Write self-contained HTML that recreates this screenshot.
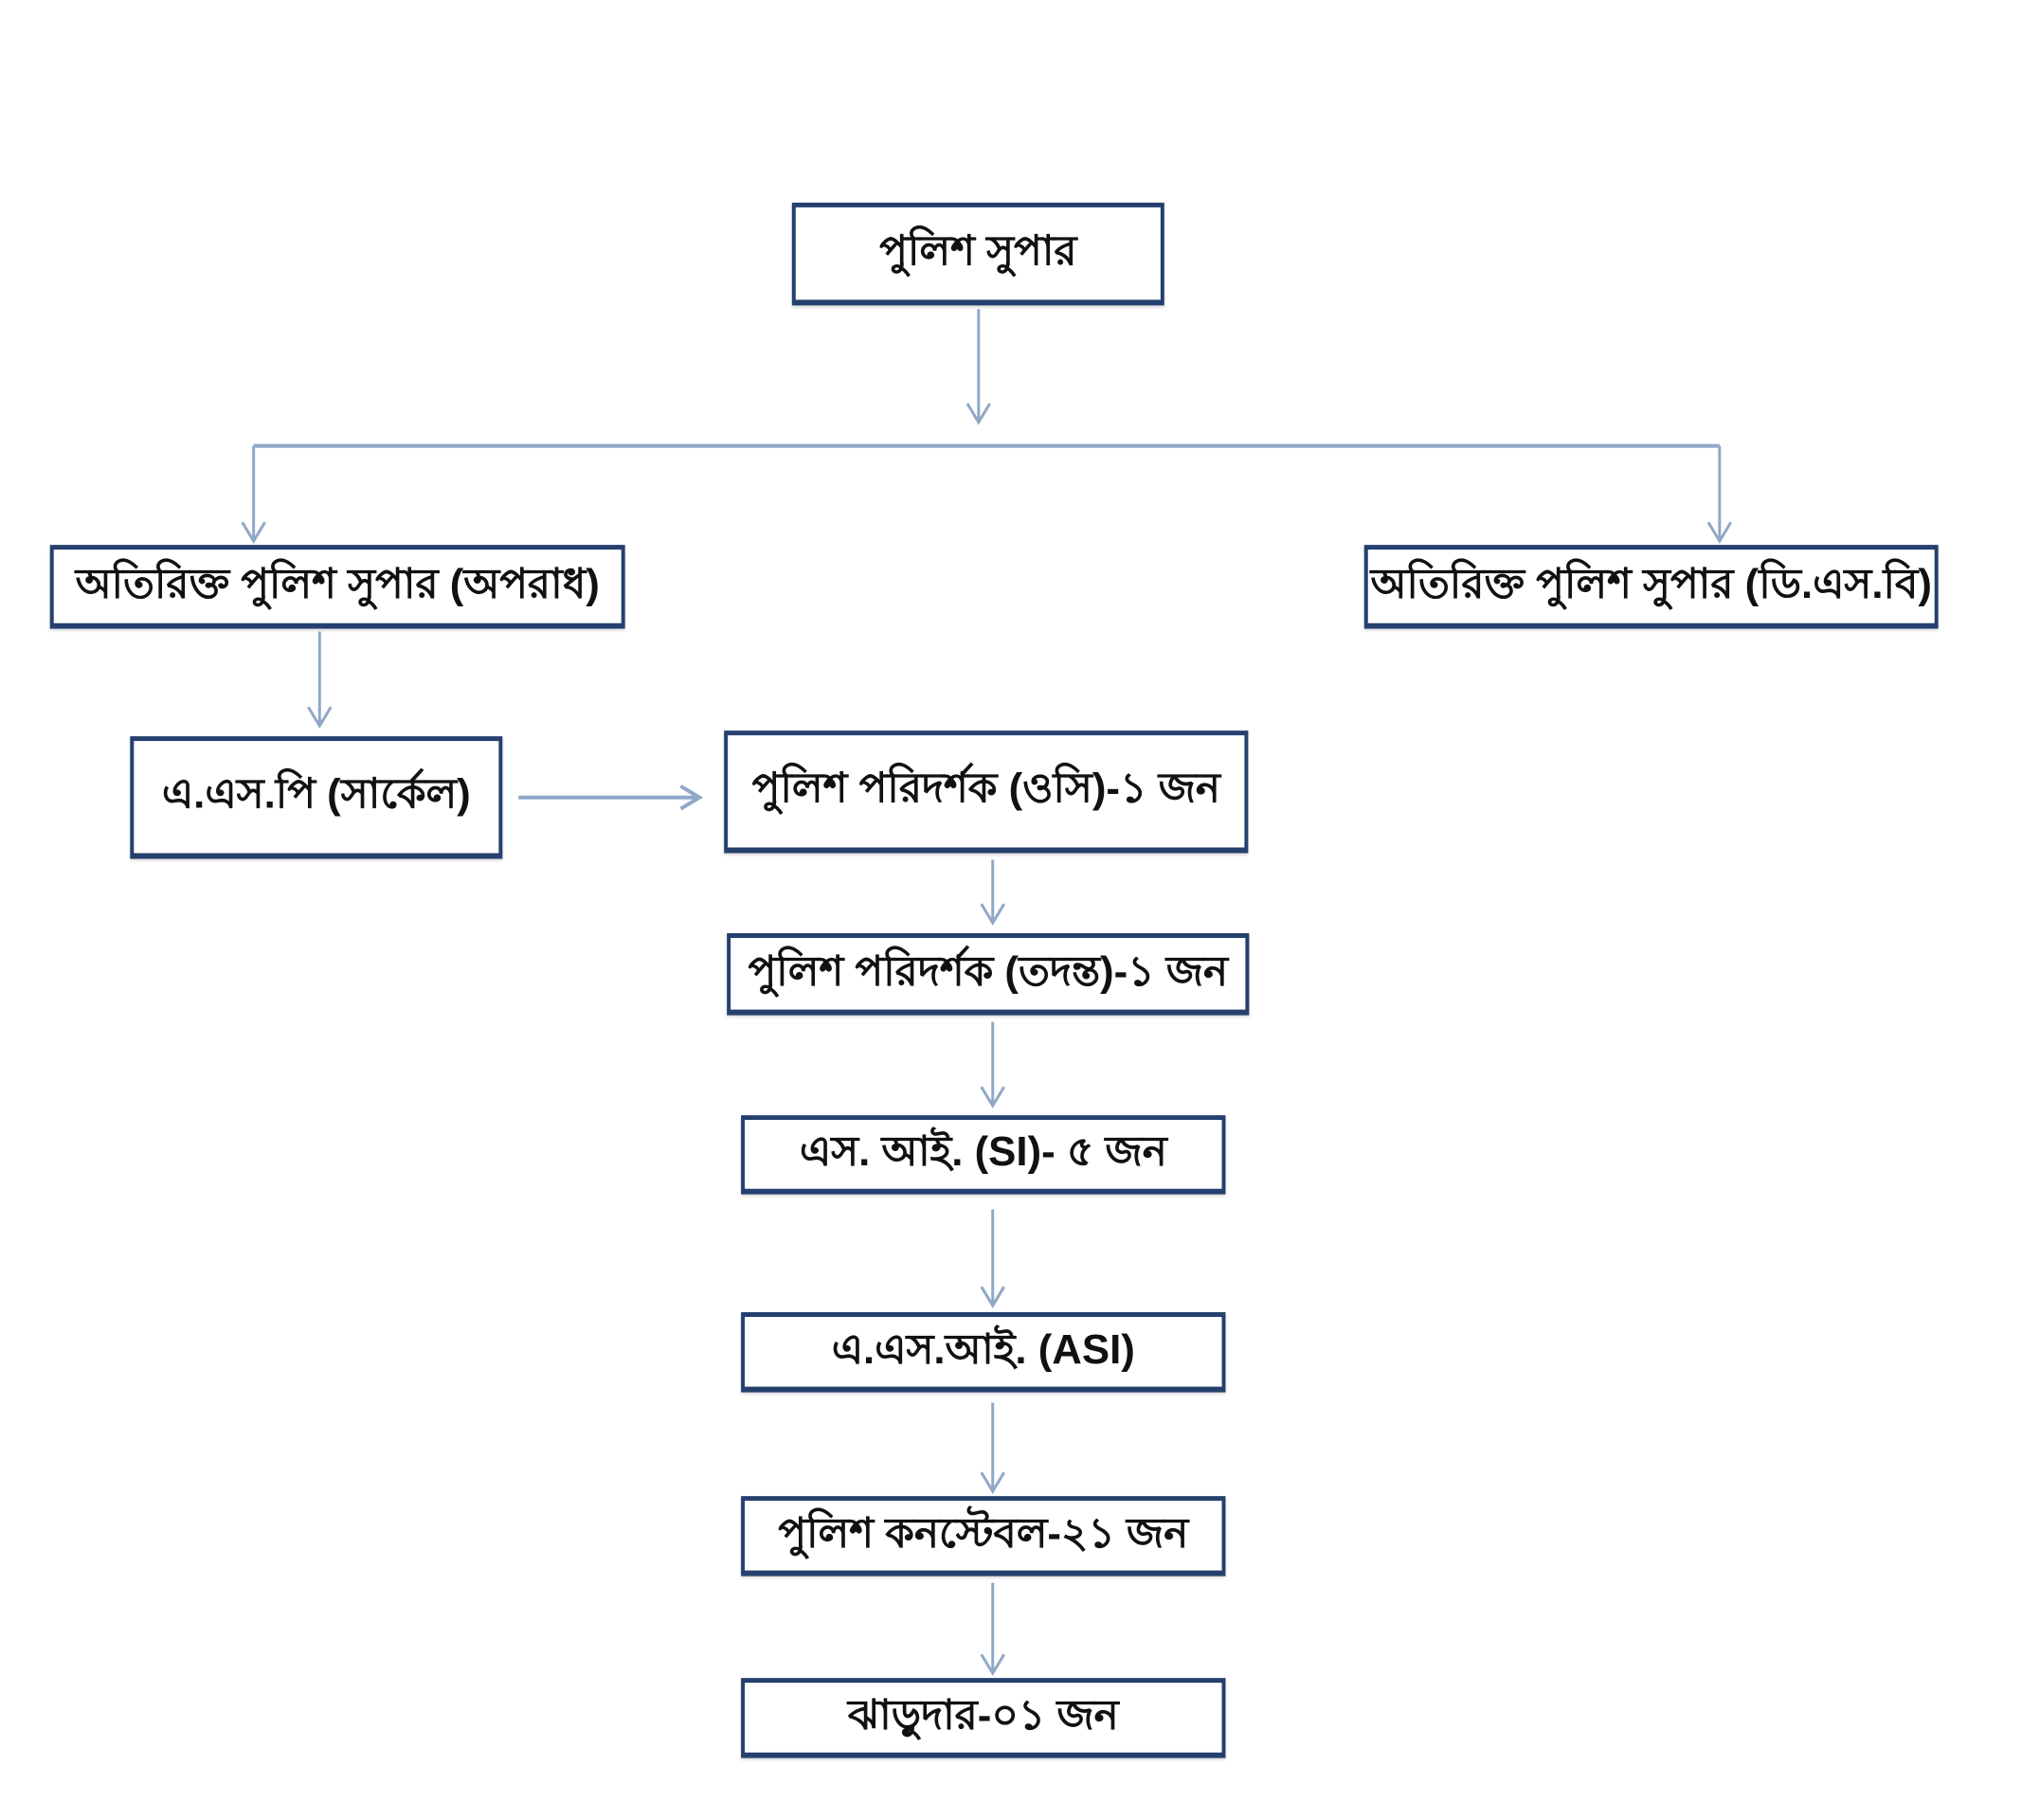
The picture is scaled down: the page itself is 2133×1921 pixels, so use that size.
<!DOCTYPE html>
<html><head><meta charset="utf-8"><style>
body{margin:0;width:2133px;height:1921px;background:#fff;position:relative;overflow:hidden;font-family:"Liberation Sans","Noto Sans CJK SC",sans-serif;}
#w{position:absolute;left:0;top:0;width:2133px;height:1921px;transform:scale(0.995);transform-origin:0 0;}
.b{position:absolute;box-sizing:border-box;border:4px solid #25406e;border-top-width:5px;border-bottom-width:6px;display:flex;align-items:center;justify-content:center;font-weight:bold;font-size:44px;color:#111;white-space:nowrap;background:#fff;box-shadow:0 2px 3px rgba(0,0,0,0.15);}
svg{position:absolute;left:0;top:0}
</style></head><body><div id="w">
<svg width="2133" height="1921" fill="none" stroke="#8fa8c6" stroke-width="3">
<path d="M1038 328V448M1026 428L1038 448L1050 428"/>
<path d="M269 473H1824" stroke-width="4"/>
<path d="M269 473V574M257 554L269 574L281 554"/>
<path d="M1824 473V574M1812 554L1824 574L1836 554"/>
<path d="M339 670V770M327 750L339 770L351 750"/>
<path d="M550 846H742M722 834L742 846L722 858" stroke-width="4"/>
<path d="M1053 912V979M1041 959L1053 979L1065 959"/>
<path d="M1053 1084V1173M1041 1153L1053 1173L1065 1153"/>
<path d="M1053 1283V1385M1041 1365L1053 1385L1065 1365"/>
<path d="M1053 1488V1582M1041 1562L1053 1582L1065 1562"/>
<path d="M1053 1679V1775M1041 1755L1053 1775L1065 1755"/>
</svg>
<div class="b" style="left:840px;top:215px;width:395px;height:109px">পুলিশ সুপার</div>
<div class="b" style="left:53px;top:578px;width:610px;height:89px">অতিরিক্ত পুলিশ সুপার (অপরাধ)</div>
<div class="b" style="left:1447px;top:578px;width:609px;height:89px">অতিরিক্ত পুলিশ সুপার (ডি.এস.বি)</div>
<div class="b" style="left:138px;top:781px;width:395px;height:130px">এ.এস.পি (সার্কেল)</div>
<div class="b" style="left:768px;top:775px;width:556px;height:130px">পুলিশ পরিদর্শক (ওসি)-১ জন</div>
<div class="b" style="left:771px;top:990px;width:554px;height:87px">পুলিশ পরিদর্শক (তদন্ত)-১ জন</div>
<div class="b" style="left:786px;top:1183px;width:514px;height:84px">এস. আই. (SI)- ৫ জন</div>
<div class="b" style="left:786px;top:1392px;width:514px;height:85px">এ.এস.আই. (ASI)</div>
<div class="b" style="left:786px;top:1587px;width:514px;height:85px">পুলিশ কনস্টেবল-২১ জন</div>
<div class="b" style="left:786px;top:1780px;width:514px;height:85px">ঝাড়ুদার-০১ জন</div>
</div></body></html>
